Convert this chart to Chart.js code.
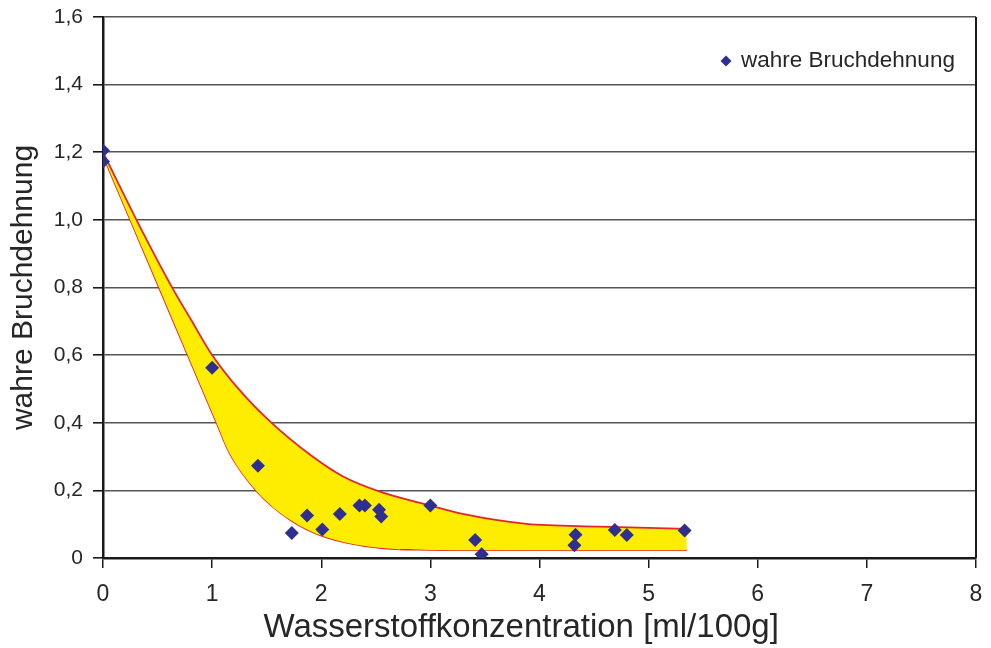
<!DOCTYPE html>
<html>
<head>
<meta charset="utf-8">
<script src="https://cdn.jsdelivr.net/npm/chart.js@4/dist/chart.umd.min.js"></script>
<style>
  html, body { margin: 0; padding: 0; background: #ffffff; }
  #wrap { width: 991px; height: 648px; }
</style>
</head>
<body>
<div id="wrap"><canvas id="chart" width="991" height="648"></canvas></div>
<script>
/* ------------------------------------------------------------
   DATA
------------------------------------------------------------ */
const pointX = [0, 0, 1.00, 1.42, 1.73, 1.87, 2.01, 2.17, 2.35, 2.40, 2.53, 2.55, 3.00, 3.41, 3.47, 4.33, 4.32, 4.69, 4.80, 5.33];
const pointY = [1.205, 1.173, 0.563, 0.273, 0.074, 0.126, 0.084, 0.130, 0.155, 0.155, 0.143, 0.123, 0.155, 0.053, 0.011, 0.069, 0.038, 0.083, 0.068, 0.081];

// upper and lower edge of the yellow scatter band
const upperX = [0, 0.31, 0.63, 0.81, 0.99, 1.25, 1.53, 1.92, 2.20, 2.53, 3.00, 3.33, 3.88, 4.55, 5.35];
const upperY = [1.20, 0.998, 0.802, 0.703, 0.605, 0.497, 0.404, 0.300, 0.241, 0.197, 0.155, 0.128, 0.101, 0.093, 0.086];
const lowerX = [0, 0.50, 1.04, 1.16, 1.41, 1.71, 2.02, 2.53, 3.00, 3.45, 5.35];
const lowerY = [1.19, 0.81, 0.40, 0.310, 0.197, 0.114, 0.064, 0.030, 0.024, 0.023, 0.023];

const xTickLabels = ["0", "1", "2", "3", "4", "5", "6", "7", "8"];
const yTickLabels = ["0", "0,2", "0,4", "0,6", "0,8", "1,0", "1,2", "1,4", "1,6"];

const seriesName = "wahre Bruchdehnung";
// trailing spaces shift the centred title a little to the left, as in the original
const xTitle = "Wasserstoffkonzentration [ml/100g]\u00a0\u00a0\u00a0\u00a0";
const yTitle = "wahre Bruchdehnung";

/* ------------------------------------------------------------
   THEME
------------------------------------------------------------ */
const COL = {
    marker: "#2e2f8f",
    band: "#ffed00",
    bandLine: "#e3262b",
    grid: "#555555",
    axis: "#1a1a1a",
    text: "#262626"
};
const FONT = "'Liberation Sans', Arial, sans-serif";

function zip(xs, ys) {
    return xs.map((x, i) => ({ x: x, y: ys[i] }));
}

function noScalePadding(s) {
    s.paddingTop = 0;
    s.paddingBottom = 0;
    s.paddingLeft = 0;
    s.paddingRight = 0;
}

/* ------------------------------------------------------------
   PLUGINS: right frame edge + legend inside the plot
------------------------------------------------------------ */
const frameAndLegend = {
    id: "frameAndLegend",
    afterDraw(chart) {
        const { ctx, chartArea } = chart;
        ctx.save();
        ctx.strokeStyle = COL.axis;
        ctx.lineWidth = 2;
        ctx.beginPath();
        ctx.moveTo(chartArea.right, chartArea.top);
        ctx.lineTo(chartArea.right, chartArea.bottom);
        ctx.stroke();

        // legend entry
        const lx = chartArea.right - 250;
        const ly = chartArea.top + 44;
        ctx.fillStyle = COL.marker;
        ctx.beginPath();
        ctx.moveTo(lx, ly - 5.5);
        ctx.lineTo(lx + 5.5, ly);
        ctx.lineTo(lx, ly + 5.5);
        ctx.lineTo(lx - 5.5, ly);
        ctx.closePath();
        ctx.fill();
        ctx.fillStyle = COL.text;
        ctx.font = "22.5px " + FONT;
        ctx.textBaseline = "middle";
        ctx.textAlign = "left";
        ctx.fillText(seriesName, lx + 15, ly);
        ctx.restore();
    }
};

/* ------------------------------------------------------------
   CHART
------------------------------------------------------------ */
new Chart(document.getElementById("chart"), {
    type: "scatter",
    data: {
        datasets: [
            {
                label: seriesName,
                data: zip(pointX, pointY),
                pointStyle: "rectRot",
                pointRadius: 7,
                backgroundColor: COL.marker,
                borderColor: COL.marker,
                borderWidth: 0,
                order: 0
            },
            {
                label: "upper",
                data: zip(upperX, upperY),
                showLine: true,
                pointRadius: 0,
                borderColor: COL.bandLine,
                borderWidth: 1.8,
                backgroundColor: COL.band,
                cubicInterpolationMode: "monotone",
                fill: "+1",
                order: 1
            },
            {
                label: "lower",
                data: zip(lowerX, lowerY),
                showLine: true,
                pointRadius: 0,
                borderColor: COL.bandLine,
                borderWidth: 1.8,
                cubicInterpolationMode: "monotone",
                fill: false,
                order: 2
            }
        ]
    },
    options: {
        responsive: false,
        animation: false,
        layout: { padding: { top: 17, right: 15, left: 0, bottom: 0 } },
        plugins: {
            legend: { display: false },
            tooltip: { enabled: false }
        },
        scales: {
            x: {
                type: "linear",
                min: 0,
                max: 8,
                afterFit: s => { s.height = 90; noScalePadding(s); },
                ticks: {
                    stepSize: 1,
                    padding: 13,
                    color: COL.text,
                    font: { family: FONT, size: 23 },
                    callback: (v, i) => xTickLabels[i]
                },
                grid: {
                    drawOnChartArea: false,
                    drawTicks: true,
                    tickLength: 10,
                    color: COL.axis,
                    lineWidth: 1.5
                },
                border: { color: COL.axis, width: 2.5 },
                title: {
                    display: true,
                    text: xTitle,
                    color: COL.text,
                    font: { family: FONT, size: 33 },
                    padding: { top: 0, bottom: 0 }
                }
            },
            y: {
                min: 0,
                max: 1.6,
                afterFit: s => { s.width = 103; noScalePadding(s); },
                ticks: {
                    stepSize: 0.2,
                    padding: 10,
                    color: COL.text,
                    font: { family: FONT, size: 21 },
                    callback: (v, i) => yTickLabels[i]
                },
                grid: {
                    color: COL.grid,
                    lineWidth: 1.6,
                    tickLength: 10,
                    tickColor: COL.axis
                },
                border: { color: COL.axis, width: 2.5 },
                title: {
                    display: true,
                    text: yTitle,
                    color: COL.text,
                    font: { family: FONT, size: 30 },
                    padding: { top: 6, bottom: 0 }
                }
            }
        }
    },
    plugins: [frameAndLegend]
});
</script>
</body>
</html>
